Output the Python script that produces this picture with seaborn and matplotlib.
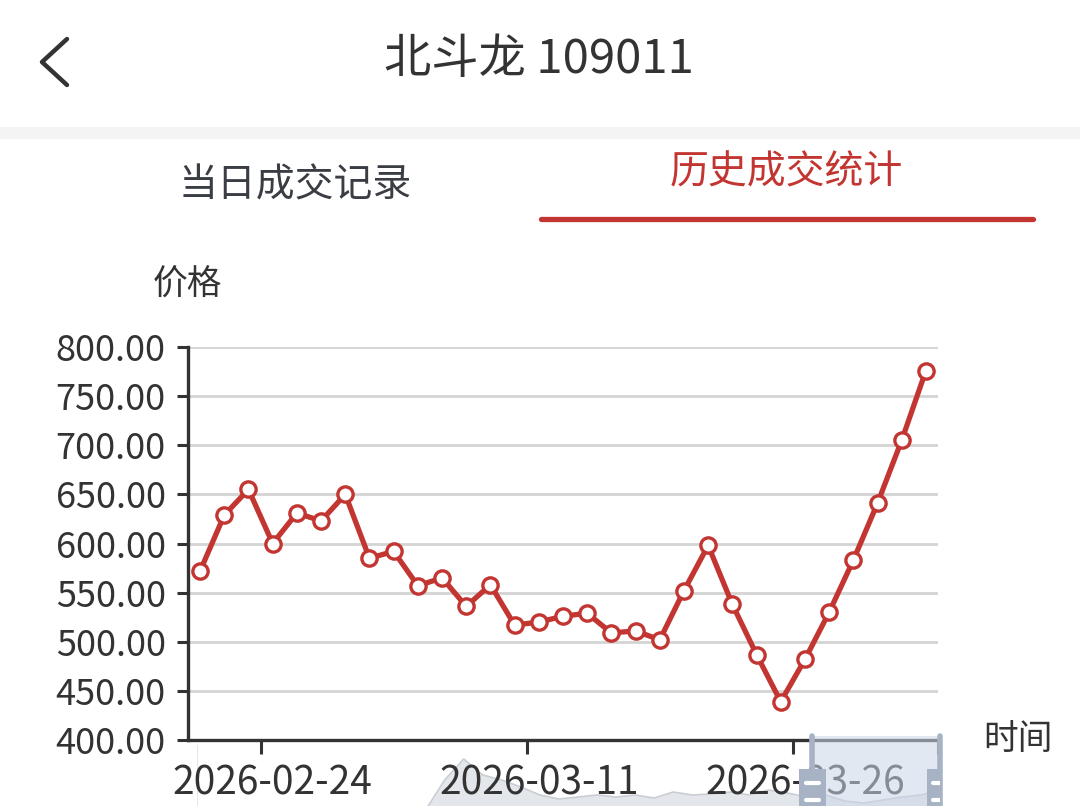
import matplotlib
matplotlib.use('Agg')
import matplotlib.pyplot as plt
import seaborn as sns
import pandas as pd
from matplotlib.lines import Line2D
from matplotlib.patches import Rectangle
from matplotlib.ticker import FormatStrFormatter, FixedLocator

# 数据
dates = ['2026-02-19', '2026-02-20', '2026-02-23', '2026-02-24', '2026-02-25',
         '2026-02-26', '2026-02-27', '2026-03-02', '2026-03-03', '2026-03-04',
         '2026-03-05', '2026-03-06', '2026-03-09', '2026-03-10', '2026-03-11',
         '2026-03-12', '2026-03-13', '2026-03-16', '2026-03-17', '2026-03-18',
         '2026-03-19', '2026-03-20', '2026-03-23', '2026-03-24', '2026-03-25',
         '2026-03-26', '2026-03-27', '2026-03-30', '2026-03-31', '2026-04-01',
         '2026-04-02']
prices = [572, 629, 655, 600, 631, 623, 650, 585, 592, 557,
          565, 536, 558, 517, 520, 526, 529, 509, 511, 502,
          552, 598, 538, 487, 439, 482, 530, 583, 641, 705,
          776]
label_dates = ['2026-02-24', '2026-03-11', '2026-03-26']
y_ticks = [400, 450, 500, 550, 600, 650, 700, 750, 800]

# 缩略轴的背景曲线（估计值）
overview = [10, 12, 11, 13, 12, 14, 12, 13, 14, 12, 13, 14, 15, 45, 66, 50,
            45, 38, 30, 26, 28, 30, 28, 30, 27, 33, 30, 31, 33, 30, 35, 32,
            28, 30, 24, 22, 25, 28, 30, 35]
window_start, window_end = 32.3, 39.0

RED = '#c23531'
TXT = '#333333'

sns.set_theme(style='white')
plt.rcParams['font.family'] = ['Noto Sans CJK SC', 'DejaVu Sans']

W, H = 1080, 806
fig = plt.figure(figsize=(W / 100, H / 100), dpi=100)


def fx(x):
    return x / W


def fy(y):
    return 1 - y / H


# 顶部栏
fig.add_artist(Line2D([fx(67), fx(42), fx(67)], [fy(39), fy(62), fy(85)],
                      color=TXT, lw=3.2, solid_capstyle='round', solid_joinstyle='round'))
fig.text(fx(539), fy(60), '北斗龙 109011', ha='center', va='center', fontsize=34, color=TXT)
fig.add_artist(Rectangle((0, fy(139)), 1, 12 / H, color='#f4f4f4', lw=0))
fig.text(fx(295), fy(185), '当日成交记录', ha='center', va='center', fontsize=28, color='#3a3d44')
fig.text(fx(786), fy(172), '历史成交统计', ha='center', va='center', fontsize=28, color=RED)
fig.add_artist(Line2D([fx(541), fx(1033)], [fy(219), fy(219)], color=RED, lw=3.8))

slider_rect = [fx(197), fy(825), 743 / W, 80 / H]

# 缩略条背景（在主图下方）
bx = fig.add_axes(slider_rect, zorder=0)
bx.patch.set_alpha(0)
bx.fill_between(range(len(overview)), overview, 0, color='#e3e6ea', lw=0)
bx.plot(range(len(overview)), overview, color='#c9cdd4', lw=1.2)
bx.set_xlim(0, len(overview) - 1)
bx.set_ylim(0, 80)
bx.axvline(0, color='#e6e8ec', lw=1.5)
bx.axis('off')

# 主图
ax = fig.add_axes([fx(188), fy(740), 750 / W, 393 / H], zorder=1)
ax.patch.set_alpha(0)
df = pd.DataFrame({'idx': range(len(prices)), 'price': prices})
sns.lineplot(data=df, x='idx', y='price', ax=ax, color=RED, lw=3.8,
             marker='o', markersize=11, markerfacecolor='white',
             markeredgecolor=RED, markeredgewidth=2.4, zorder=5)

ax.set_xlim(-0.5, len(prices) - 0.5)
ax.set_ylim(400, 800)
ax.set_yticks(y_ticks)
ax.yaxis.set_major_formatter(FormatStrFormatter('%.2f'))
ax.grid(axis='y', color='#d4d4d4', lw=2)
ax.set_axisbelow(True)

label_pos = [dates.index(d) for d in label_dates]
ax.set_xticks(label_pos)
ax.set_xticklabels(label_dates)
ax.xaxis.set_minor_locator(FixedLocator([p - 0.5 for p in label_pos] + [len(prices) - 0.5]))
ax.tick_params(axis='x', which='major', length=0, pad=17, labelsize=28, labelcolor=TXT)
ax.tick_params(axis='x', which='minor', length=10, width=2.2, color=TXT, direction='out')
ax.tick_params(axis='y', length=8, width=2.2, color=TXT, labelsize=26, labelcolor=TXT, pad=8)
ax.xaxis.set_ticks_position('bottom')
ax.yaxis.set_ticks_position('left')
for s in ['top', 'right']:
    ax.spines[s].set_visible(False)
for s in ['left', 'bottom']:
    ax.spines[s].set_color(TXT)
    ax.spines[s].set_linewidth(2.4)
ax.set_xlabel('')
ax.set_ylabel('')

fig.text(fx(187), fy(285), '价格', ha='center', va='center', fontsize=25, color=TXT)
fig.text(fx(1018), fy(740), '时间', ha='center', va='center', fontsize=25, color=TXT)

# 缩略条选区和手柄（在主图上方）
sx = fig.add_axes(slider_rect, zorder=10)
sx.patch.set_alpha(0)
sx.set_xlim(0, len(overview) - 1)
sx.set_ylim(0, 80)
sx.axvspan(window_start, window_end, ymin=0, ymax=1.11, color='#c9d6e8', alpha=0.55,
           lw=0, clip_on=False)
for edge in (window_start, window_end):
    sx.axvline(edge, ymin=0, ymax=1.11, color='#a7b3c4', lw=4, clip_on=False)
    sx.add_patch(Rectangle((edge - 0.7, 0), 1.4, 56, color='#a7b3c4', lw=0))
    for yy in (42, 25):
        sx.plot([edge - 0.35, edge + 0.35], [yy, yy], color='white', lw=3)
sx.axis('off')

plt.savefig('out.png', dpi=100)
